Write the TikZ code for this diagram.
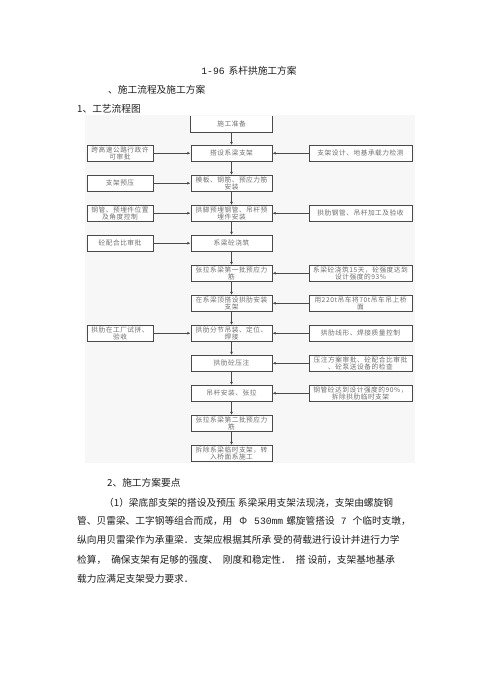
\documentclass[tikz,border=0pt]{standalone}
\usepackage{fontspec}
\setmainfont{Noto Sans CJK SC}
\newfontfamily\monof{Liberation Mono}
\newfontfamily\boxf[LetterSpace=8]{Noto Sans CJK SC}
\usetikzlibrary{arrows.meta}
\definecolor{linec}{HTML}{4A4A4A}
\definecolor{boxtxt}{HTML}{707070}
\definecolor{bodytxt}{HTML}{1E1E1E}
\definecolor{bgc}{HTML}{F7F7F7}
\tikzset{
  anybox/.style={draw=linec, line width=0.9pt, fill=white, minimum height=15.5pt,
    inner sep=0pt, align=center, text=boxtxt, font=\boxf\fontsize{6.7}{7.4}\selectfont},
  cbox/.style={anybox, minimum width=81pt},
  lbox/.style={anybox, minimum width=66pt},
  rbox/.style={anybox, minimum width=103pt},
  flow/.style={draw=linec, line width=0.9pt, -{Latex[length=3.2pt,width=2.8pt]}},
  bodyline/.style={anchor=west, inner sep=0pt, text=bodytxt, font=\fontsize{9.7}{11}\selectfont}
}
\begin{document}
\begin{tikzpicture}[x=1pt,y=-1pt]
\useasboundingbox (0,0) rectangle (500,695);
\fill[white] (0,0) rectangle (500,695);
\fill[bgc] (85,115) rectangle (415,463);

% headings
\node[inner sep=0pt, text=bodytxt, font=\fontsize{9.7}{11}\selectfont] (title) at (249,71) {{\monof 1-96}\hspace{4pt}系杆拱施工方案};
\node[bodyline] (h1) at (108,90) {、施工流程及施工方案};
\node[bodyline] (h2) at (77,109) {1、工艺流程图};

% centre column
\node[cbox, draw=none] (c1) at (231.5,124) {施工准备};
\draw[linec, line width=0.9pt] (c1.north west) -- (c1.south west) -- (c1.south east) -- (c1.north east);
\node[cbox] (c2) at (231.5,153.25) {搭设系梁支架};
\node[cbox] (c3) at (231.5,183.25) {模板、钢筋、预应力筋\\安装};
\node[cbox] (c4) at (231.5,213.25) {拱脚预埋钢管、吊杆预\\埋件安装};
\node[cbox] (c5) at (231.5,243.25) {系梁砼浇筑};
\node[cbox] (c6) at (231.5,273.25) {张拉系梁第一批预应力\\筋};
\node[cbox] (c7) at (231.5,303.25) {在系梁顶搭设拱肋安装\\支架};
\node[cbox] (c8) at (231.5,333.25) {拱肋分节吊装、定位、\\焊接};
\node[cbox] (c9) at (231.5,363.25) {拱肋砼压注};
\node[cbox] (c10) at (231.5,393.25) {吊杆安装、张拉};
\node[cbox] (c11) at (231.5,423.25) {张拉系梁第二批预应力\\筋};
\node[cbox] (c12) at (231.5,453.25) {拆除系梁临时支架，转\\入桥面系施工};

% left column
\node[lbox] (l2) at (120,153.25) {跨高速公路行政许\\可审批};
\node[lbox] (l3) at (120,183.25) {支架预压};
\node[lbox] (l4) at (120,213.25) {钢管、预埋件位置\\及角度控制};
\node[lbox] (l5) at (120,243.25) {砼配合比审批};
\node[lbox] (l8) at (120,333.25) {拱肋在工厂试拼、\\验收};

% right column
\node[rbox] (r2) at (360.5,153.25) {支架设计、地基承载力检测};
\node[rbox] (r4) at (360.5,213.25) {拱肋钢管、吊杆加工及验收};
\node[rbox] (r6) at (360.5,273.25) {系梁砼浇筑15天，砼强度达到\\设计强度的93\%};
\node[rbox] (r7) at (360.5,303.25) {用220t吊车将70t吊车吊上桥\\面};
\node[rbox] (r8) at (360.5,333.25) {拱肋线形、焊接质量控制};
\node[rbox] (r9) at (360.5,363.25) {压注方案审批、砼配合比审批\\、砼泵送设备的检查};
\node[rbox] (r10) at (360.5,393.25) {钢管砼达到设计强度的90\%，\\拆除拱肋临时支架};

% vertical flow
\foreach \a/\b in {c1/c2,c2/c3,c3/c4,c4/c5,c5/c6,c6/c7,c7/c8,c8/c9,c9/c10,c10/c11,c11/c12}
  \draw[flow] (\a.south) -- (\b.north);
% left inputs
\foreach \n in {2,3,4,5,8}
  \draw[flow] (l\n.east) -- (c\n.west);
% right inputs
\foreach \n in {2,4,6,7,8,9,10}
  \draw[flow] (r\n.west) -- (c\n.east);

% body text
\node[bodyline] (s2) at (107,483) {2、施工方案要点};
\node[bodyline] (p1) at (104,503) {（1）梁底部支架的搭设及预压\ 系梁采用支架法现浇，支架由螺旋钢};
\node[bodyline] (p2) at (77,521) {管、贝雷梁、工字钢等组合而成，用\hspace{7pt}Φ\hspace{7pt}{\monof 530mm}\hspace{3pt}螺旋管搭设\hspace{6pt}{\monof 7}\hspace{6pt}个临时支墩，};
\node[bodyline] (p3) at (77,540) {纵向用贝雷梁作为承重梁．支架应根据其所承\ 受的荷载进行设计并进行力学};
\node[bodyline] (p4) at (77,560) {检算，\hspace{5pt}确保支架有足够的强度、\hspace{5pt}刚度和稳定性．\hspace{5pt}搭\ 设前，支架基地基承};
\node[bodyline] (p5) at (77,579) {载力应满足支架受力要求．};
\end{tikzpicture}
\end{document}
